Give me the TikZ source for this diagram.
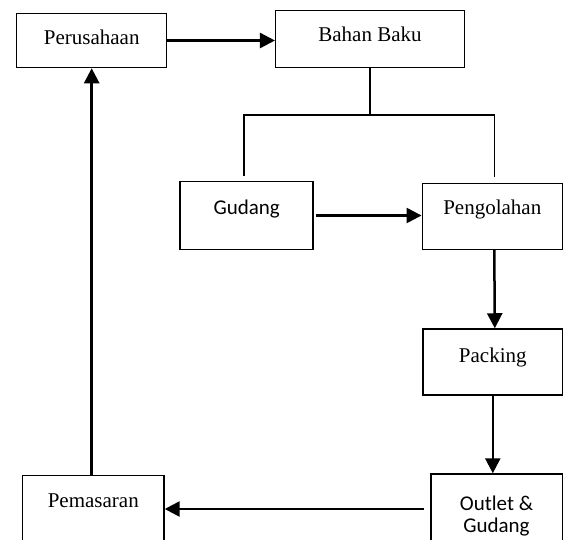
\documentclass[tikz,border=0pt]{standalone}
\usepackage{fontspec}
\setmainfont{Liberation Serif}
\newfontfamily\calibri{Carlito}
\usetikzlibrary{arrows.meta}

\begin{document}
\begin{tikzpicture}[x=1pt, y=-1pt, font=\fontsize{21}{22.5}\selectfont,
    box node/.style={rectangle, draw, line width=1.5pt, inner sep=0pt, text height=15pt, text depth=18pt},
    flow/.style={-{Triangle[length=15pt,width=15pt]}, line width=2.5pt},
    branch/.style={line width=1.5pt}]

    \clip (0,0) rectangle (563,539);

    % Boxes
    \node[box node, minimum width=150pt, minimum height=54pt, text depth=8pt] (perusahaan) at (91.7,40.5) {Perusahaan};
    \node[box node, minimum width=188.6pt, minimum height=57.4pt, text depth=10pt] (bahan) at (370,39) {Bahan Baku};
    \node[box node, minimum width=133pt, minimum height=67.6pt, font=\fontsize{21}{22.5}\calibri] (gudang) at (246.7,215.5) {Gudang};
    \node[box node, minimum width=140pt, minimum height=66pt] (pengolahan) at (492.3,216.3) {Pengolahan};
    \node[box node, minimum width=140pt, minimum height=66pt, text depth=14pt] (packing) at (492.8,362) {Packing};
    \node[box node, minimum width=131.5pt, minimum height=70pt, align=center, text height=58.5pt, text depth=11.5pt, font=\fontsize{21}{22.3}\calibri] (outlet) at (496.5,509) {Outlet \&\\Gudang};
    \node[box node, minimum width=141.3pt, minimum height=66pt] (pemasaran) at (93.3,508.7) {Pemasaran};

    % Branch from Bahan Baku
    \coordinate (tl) at (244,115);
    \coordinate (tr) at (494.3,115);
    \coordinate (gl) at (244,176);
    \coordinate (pr) at (494.3,177);
    \draw[branch] (bahan.south) -- (bahan.south |- tl);
    \draw[branch] (gl) -- (tl) -- (tr) -- (pr);

    % Arrows
    \draw[flow] (perusahaan.east) -- (perusahaan.east -| bahan.west);
    \draw[flow, shorten <=2pt] (gudang.east) -- (gudang.east -| pengolahan.west);
    \draw[flow] ([xshift=2pt]pengolahan.south) -- ([xshift=2pt]packing.north);
    \draw[flow] (packing.south) -- (packing.south |- outlet.north);
    \draw[flow, shorten <=6pt] (outlet.west) -- (outlet.west -| pemasaran.east);
    \draw[flow] (pemasaran.north -| perusahaan.south) -- (perusahaan.south);

\end{tikzpicture}
\end{document}
